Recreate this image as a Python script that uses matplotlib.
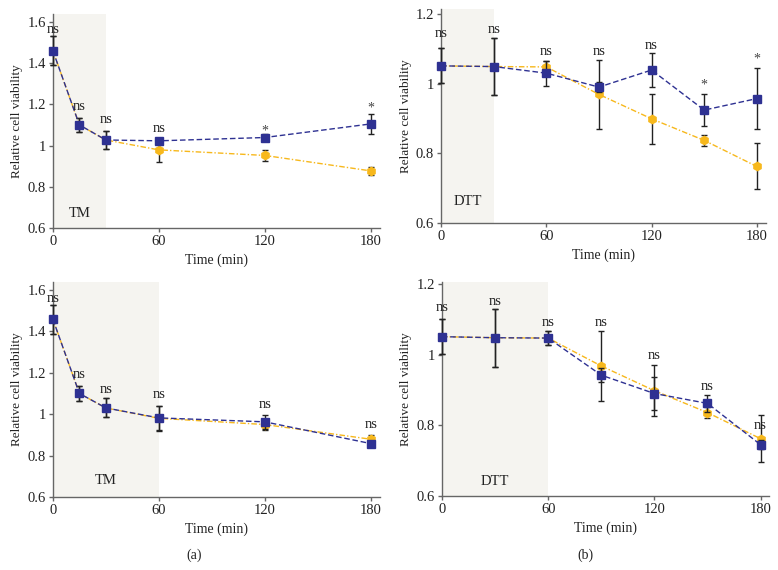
import matplotlib
matplotlib.use("Agg")
import matplotlib.pyplot as plt

plt.rcParams['font.family'] = ['Liberation Serif', 'DejaVu Serif']

# ---- data ----
# Panel (a) top: TM 0-30 min
a1_time = [0, 15, 30, 60, 120, 180]
a1_blue = [1.46, 1.10, 1.027, 1.023, 1.039, 1.105]
a1_blue_err = [0.07, 0.035, 0.045, 0.015, 0.015, 0.047]
a1_yel = [1.46, 1.10, 1.027, 0.979, 0.952, 0.877]
a1_yel_err = [0.07, 0.035, 0.045, 0.06, 0.028, 0.02]
a1_sig = ["ns", "ns", "ns", "ns", "*", "*"]
a1_sig_y = [1.565, 1.19, 1.125, 1.085, 1.07, 1.18]

# Panel (a) bottom: TM 0-60 min
a2_time = [0, 15, 30, 60, 120, 180]
a2_blue = [1.458, 1.10, 1.03, 0.982, 0.963, 0.858]
a2_blue_err = [0.07, 0.036, 0.046, 0.059, 0.035, 0.012]
a2_yel = [1.458, 1.10, 1.03, 0.98, 0.95, 0.879]
a2_yel_err = [0.07, 0.036, 0.046, 0.059, 0.028, 0.02]
a2_sig = ["ns", "ns", "ns", "ns", "ns", "ns"]
a2_sig_y = [1.56, 1.19, 1.12, 1.095, 1.047, 0.95]

# Panel (b) top: DTT 0-30 min
b1_time = [0, 30, 60, 90, 120, 150, 180]
b1_blue = [1.051, 1.049, 1.03, 0.99, 1.039, 0.924, 0.957]
b1_blue_err = [0.05, 0.082, 0.036, 0.015, 0.048, 0.047, 0.087]
b1_yel = [1.051, 1.049, 1.048, 0.969, 0.899, 0.837, 0.762]
b1_yel_err = [0.05, 0.082, 0.018, 0.1, 0.072, 0.015, 0.066]
b1_sig = ["ns", "ns", "ns", "ns", "ns", "*", "*"]
b1_sig_y = [1.145, 1.155, 1.092, 1.092, 1.11, 0.995, 1.07]

# Panel (b) bottom: DTT 0-60 min
b2_time = [0, 30, 60, 90, 120, 150, 180]
b2_blue = [1.051, 1.048, 1.047, 0.942, 0.89, 0.862, 0.745]
b2_blue_err = [0.05, 0.082, 0.02, 0.02, 0.047, 0.023, 0.012]
b2_yel = [1.051, 1.048, 1.047, 0.968, 0.898, 0.836, 0.762]
b2_yel_err = [0.05, 0.082, 0.02, 0.1, 0.072, 0.015, 0.066]
b2_sig = ["ns", "ns", "ns", "ns", "ns", "ns", "ns"]
b2_sig_y = [1.135, 1.15, 1.09, 1.092, 0.998, 0.91, 0.80]

BLUE = "#2e3192"
YEL = "#f7b81c"
SHADE = "#f5f4f0"

fig = plt.figure(figsize=(7.78, 5.70), dpi=100)

panels = [
    ([0.068, 0.600, 0.420, 0.375], a1_time, a1_blue, a1_blue_err, a1_yel, a1_yel_err,
     a1_sig, a1_sig_y, (0.6, 1.637), [0.6, 0.8, 1.0, 1.2, 1.4, 1.6], 30, "TM", 0.672),
    ([0.567, 0.609, 0.417, 0.375], b1_time, b1_blue, b1_blue_err, b1_yel, b1_yel_err,
     b1_sig, b1_sig_y, (0.6, 1.214), [0.6, 0.8, 1.0, 1.2], 30, "DTT", 0.66),
    ([0.068, 0.128, 0.420, 0.378], a2_time, a2_blue, a2_blue_err, a2_yel, a2_yel_err,
     a2_sig, a2_sig_y, (0.6, 1.64), [0.6, 0.8, 1.0, 1.2, 1.4, 1.6], 60, "TM", 0.68),
    ([0.568, 0.130, 0.421, 0.376], b2_time, b2_blue, b2_blue_err, b2_yel, b2_yel_err,
     b2_sig, b2_sig_y, (0.6, 1.207), [0.6, 0.8, 1.0, 1.2], 60, "DTT", 0.64),
]

def fmt(v):
    s = f"{v:.1f}"
    return "1" if s == "1.0" else s

def noclip(container):
    for art in container.get_children():
        art.set_clip_on(False)

for (rect, t, bl, ble, ye, yee, sig, sigy, ylim, yt, shade_end, slabel, sly) in panels:
    ax = fig.add_axes(rect)
    ax.axvspan(0, shade_end, color=SHADE, zorder=0, lw=0)
    c1 = ax.errorbar(t, ye, yerr=yee, color=YEL, ls=(0, (4, 1.5, 1, 1.5)), lw=1.0,
                     marker='h', ms=6.0, mfc=YEL, mec=YEL,
                     ecolor='#222222', elinewidth=1.0, capsize=2.5, capthick=1.0, zorder=3)
    c2 = ax.errorbar(t, bl, yerr=ble, color=BLUE, ls=(0, (4, 2)), lw=1.0,
                     marker='s', ms=6.0, mfc=BLUE, mec=BLUE,
                     ecolor='#222222', elinewidth=1.0, capsize=2.5, capthick=1.0, zorder=4)
    noclip(c1)
    noclip(c2)
    for x, s, y in zip(t, sig, sigy):
        ax.text(x, y, s, ha='center', va='center', fontsize=10.5 if s == "ns" else 10,
                color='#222222' if s == "ns" else '#444444', zorder=5)
    ax.text(shade_end / 2, sly, slabel, ha='center', va='center', fontsize=10.5, color='#222222')
    ax.set_xlim(0, 185)
    ax.set_ylim(*ylim)
    ax.set_xticks([0, 60, 120, 180])
    ax.set_yticks(yt)
    ax.set_yticklabels([fmt(v) for v in yt])
    for side in ('top', 'right'):
        ax.spines[side].set_visible(False)
    for side in ('left', 'bottom'):
        ax.spines[side].set_color('#666666')
        ax.spines[side].set_linewidth(1.0)
    ax.tick_params(axis='both', direction='out', length=3, width=1.0, color='#666666',
                   labelsize=10.5, labelcolor='#222222', pad=2)
    ax.set_xlabel("Time (min)", fontsize=10, color='#222222', labelpad=4)
    ax.set_ylabel("Relative cell viability", fontsize=9.5, color='#222222', labelpad=3)
    ax.patch.set_alpha(0)

fig.text(0.250, 0.025, "(a)", ha='center', va='center', fontsize=10, color='#222222')
fig.text(0.752, 0.025, "(b)", ha='center', va='center', fontsize=10, color='#222222')

fig.savefig("out.png", dpi=100, facecolor='white')
